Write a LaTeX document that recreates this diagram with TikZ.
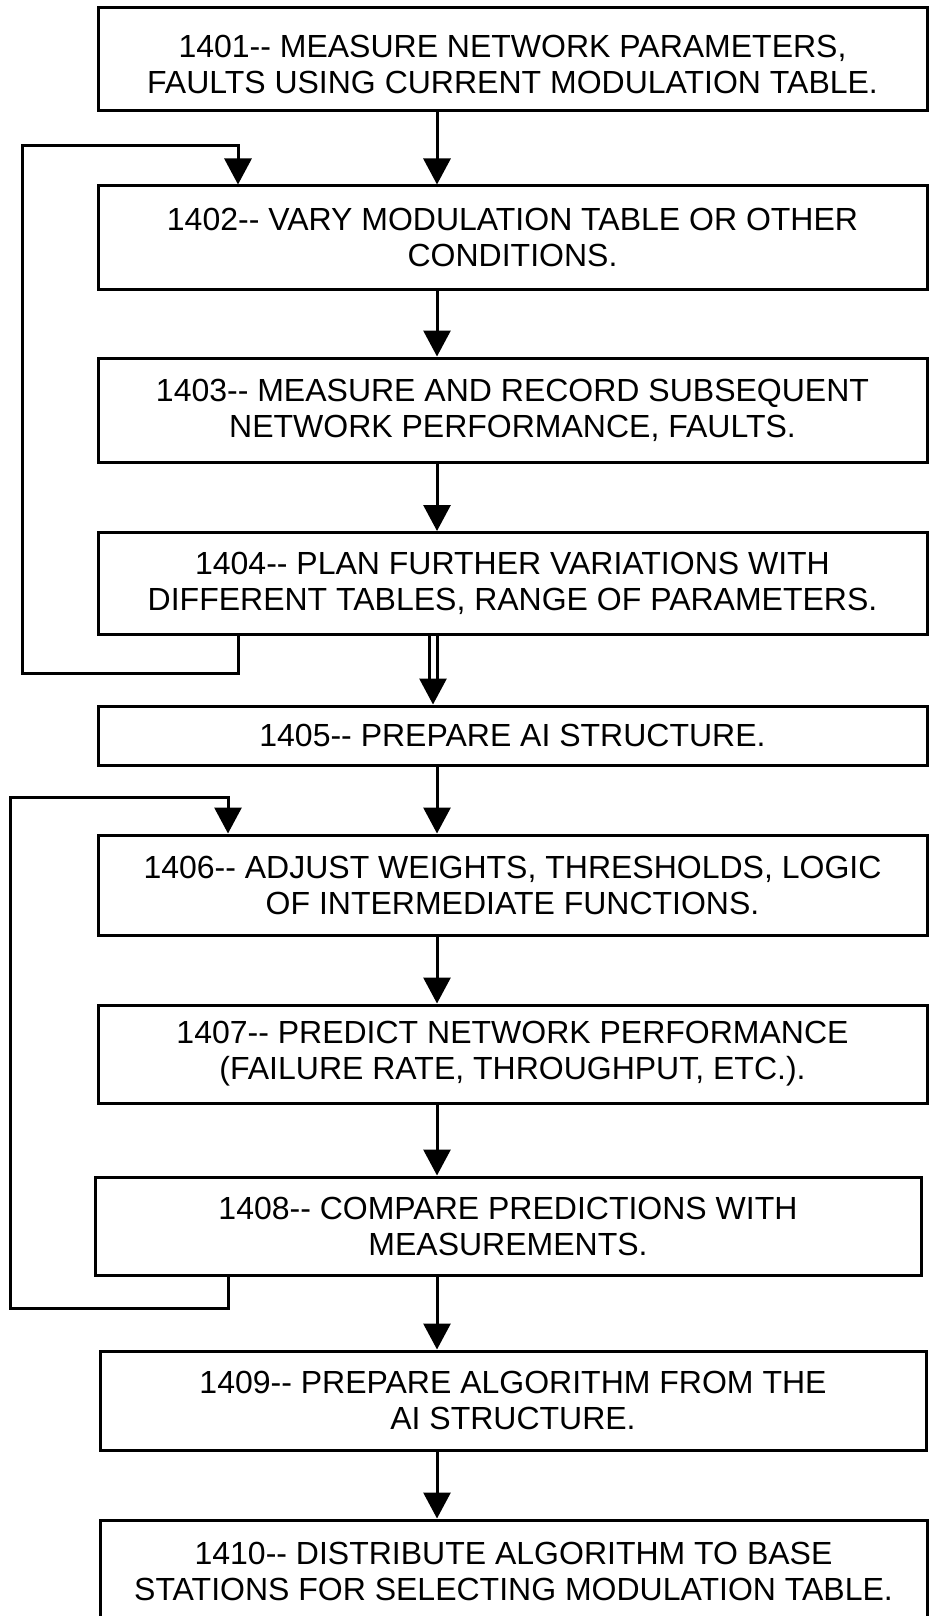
\documentclass[tikz,border=0pt]{standalone}
\usepackage{fontspec}
\setmainfont{Liberation Sans}
\usetikzlibrary{arrows.meta, positioning}

\tikzset{
  stepbox/.style={draw, line width=3pt, align=center, inner sep=0pt,
    minimum width=829pt, font=\fontsize{32}{36}\selectfont},
  flow/.style={line width=3pt, -{Triangle[width=27pt,length=26pt]}},
  loopline/.style={line width=3pt}
}

\begin{document}
\begin{tikzpicture}[x=1pt, y=-1pt]
\useasboundingbox (0,0) rectangle (931,1616);
\clip (0,0) rectangle (931,1616);

% measuring steps
\node[stepbox, minimum height=103pt, text height=69pt] (n1401) at (512.5, 59.5)
  {1401-{}- MEASURE NETWORK PARAMETERS,\\FAULTS USING CURRENT MODULATION TABLE.};
\node[stepbox, minimum height=103pt] (n1402) at (512.5, 237.5)
  {1402-{}- VARY MODULATION TABLE OR OTHER\\CONDITIONS.};
\node[stepbox, minimum height=104pt] (n1403) at (512.5, 410)
  {1403-{}- MEASURE AND RECORD SUBSEQUENT\\NETWORK PERFORMANCE, FAULTS.};
\node[stepbox, minimum height=102pt] (n1404) at (512.5, 583.5)
  {1404-{}- PLAN FURTHER VARIATIONS WITH\\DIFFERENT TABLES, RANGE OF PARAMETERS.};

% training steps
\node[stepbox, minimum height=59pt] (n1405) at (512.5, 735.5)
  {1405-{}- PREPARE AI STRUCTURE.};
\node[stepbox, minimum height=100pt] (n1406) at (512.5, 885)
  {1406-{}- ADJUST WEIGHTS, THRESHOLDS, LOGIC\\OF INTERMEDIATE FUNCTIONS.};
\node[stepbox, minimum height=98pt] (n1407) at (512.5, 1054)
  {1407-{}- PREDICT NETWORK PERFORMANCE\\(FAILURE RATE, THROUGHPUT, ETC.).};
\node[stepbox, minimum height=98pt, minimum width=826pt] (n1408) at (508, 1226)
  {1408-{}- COMPARE PREDICTIONS WITH\\MEASUREMENTS.};
\node[stepbox, minimum height=99pt, minimum width=826pt] (n1409) at (513, 1400.5)
  {1409-{}- PREPARE ALGORITHM FROM THE\\AI STRUCTURE.};
\node[stepbox, minimum height=103pt, minimum width=827pt] (n1410) at (513.5, 1571.5)
  {1410-{}- DISTRIBUTE ALGORITHM TO BASE\\STATIONS FOR SELECTING MODULATION TABLE.};

\coordinate (mainx) at (437,0);
\coordinate (dbl) at (433,0);
\coordinate (dblL) at (429,0);
\coordinate (dblR) at (437,0);
\coordinate (dblEnd) at (0,679);
\coordinate (loopA) at (238,0);
\coordinate (loopAbot) at (22,673);
\coordinate (loopAtop) at (238,146);
\coordinate (loopB) at (228,0);
\coordinate (loopBbot) at (10,1308);
\coordinate (loopBtop) at (228,797);

\draw[flow] (n1401.south -| mainx) -- (n1402.north -| mainx);
\draw[flow] (n1402.south -| mainx) -- (n1403.north -| mainx);
\draw[flow] (n1403.south -| mainx) -- (n1404.north -| mainx);
%\draw[flow] (n1404) -- (n1405);
\draw[loopline] (n1404.south -| dblL) -- (dblEnd -| dblL);
\draw[loopline] (n1404.south -| dblR) -- (dblEnd -| dblR);
\draw[flow] (dblEnd -| dbl) -- (n1405.north -| dbl);
\draw[flow] (n1405.south -| mainx) -- (n1406.north -| mainx);
\draw[flow] (n1406.south -| mainx) -- (n1407.north -| mainx);
\draw[flow] (n1407.south -| mainx) -- (n1408.north -| mainx);
\draw[flow] (n1408.south -| mainx) -- (n1409.north -| mainx);
\draw[flow] (n1409.south -| mainx) -- (n1410.north -| mainx);

% feedback loops
\draw[flow] (n1404.south -| loopA) |- (loopAbot) |- (loopAtop) -- (n1402.north -| loopA);
\draw[flow] (n1408.south -| loopB) |- (loopBbot) |- (loopBtop) -- (n1406.north -| loopB);
\end{tikzpicture}
\end{document}
